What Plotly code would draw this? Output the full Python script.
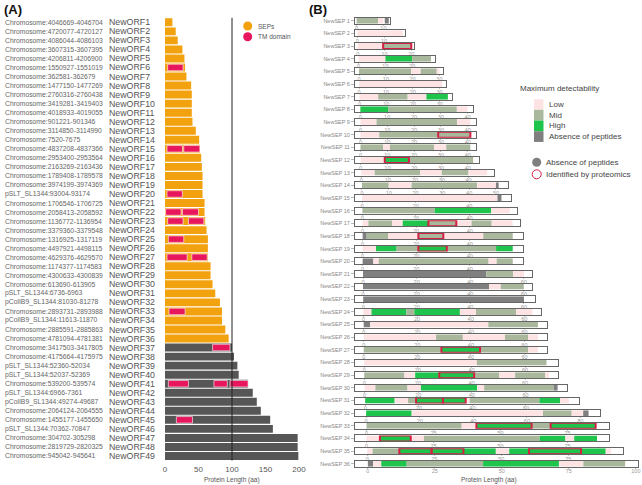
import plotly.graph_objects as go

W, H = 642, 485
FONT = "Liberation Sans, Arial, sans-serif"

# ---------------- Panel A data ----------------
orf_names = [f"NewORF{i}" for i in range(1, 50)]
orf_loci = [
    "Chromosome:4046669-4046704", "Chromosome:4720077-4720127", "Chromosome:4086044-4086103",
    "Chromosome:3607315-3607395", "Chromosome:4206811-4206900", "Chromosome:1550927-1551019",
    "Chromosome:362581-362679", "Chromosome:1477150-1477269", "Chromosome:2760316-2760438",
    "Chromosome:3419281-3419403", "Chromosome:4018933-4019055", "Chromosome:901221-901346",
    "Chromosome:3114850-3114990", "Chromosome:7520-7675", "Chromosome:4837208-4837366",
    "Chromosome:2953400-2953564", "Chromosome:2163269-2163436", "Chromosome:1789408-1789578",
    "Chromosome:3974199-3974369", "pSLT_SL1344:93004-93174", "Chromosome:1706546-1706725",
    "Chromosome:2058413-2058592", "Chromosome:1136772-1136954", "Chromosome:3379360-3379548",
    "Chromosome:1316925-1317119", "Chromosome:4497921-4498115", "Chromosome:4629376-4629570",
    "Chromosome:1174377-1174583", "Chromosome:4300633-4300839", "Chromosome:613690-613905",
    "pSLT_SL1344:6736-6963", "pColIB9_SL1344:81030-81278", "Chromosome:2893731-2893988",
    "pColIB9_SL1344:11613-11870", "Chromosome:2885591-2885863", "Chromosome:4781094-4781381",
    "Chromosome:3417503-3417805", "Chromosome:4175664-4175975", "pSLT_SL1344:52360-52034",
    "pSLT_SL1344:52037-52369", "Chromosome:539200-539574", "pSLT_SL1344:6966-7361",
    "pColIB9_SL1344:49274-49687", "Chromosome:2064124-2064555", "Chromosome:1455177-1455650",
    "pSLT_SL1344:70362-70847", "Chromosome:304702-305298", "Chromosome:2819729-2820325",
    "Chromosome:945042-945641",
]
orf_lengths = [11, 16, 19, 26, 29, 30, 32, 39, 40, 40, 40, 41, 46, 51, 52, 54, 55, 56, 56, 56,
               59, 59, 60, 62, 64, 64, 64, 68, 68, 71, 75, 82, 85, 85, 90, 95,
               100, 103, 108, 110, 124, 131, 137, 143, 157, 161, 198, 198, 199]
orf_is_sep = [True] * 36 + [False] * 13

tm_orf = [6, 15, 15, 20, 22, 22, 23, 23, 25, 27, 27, 33, 37, 41, 41, 41, 45]
tm_start = [4, 3, 28, 3, 1, 26, 4, 35, 5, 3, 40, 6, 71, 5, 73, 97, 17]
tm_end = [27, 26, 52, 26, 24, 50, 27, 58, 28, 33, 63, 30, 97, 35, 93, 124, 41]

# ---------------- Panel B data ----------------
sep_names = [f"NewSEP {i}" for i in range(1, 37)]
sep_lengths = orf_lengths[:36]
sep_segments = [
    [(0, 8, "Mid"), (8, 10, "Low"), (10.5, 12, "Absence")],
    [(0, 17, "Low")],
    [(0, 9.5, "Low"), (9.5, 20, "Mid")],
    [(0, 10, "Low"), (10, 20, "High"), (20, 27, "Mid")],
    [(0, 19.5, "Mid"), (19.5, 23, "Low"), (23, 29, "Mid"), (29, 30, "Low")],
    [(0, 31, "Low")],
    [(0, 7, "Low"), (7, 18, "Mid"), (18, 25, "Low"), (25, 33, "High")],
    [(0, 10.5, "High"), (10.5, 36, "Mid"), (36, 40, "Low")],
    [(0, 6, "Low"), (6, 36, "Mid"), (36, 41, "Low")],
    [(0, 7, "Low"), (7, 41, "Mid")],
    [(0, 8.5, "Mid"), (8.5, 11, "Low"), (11, 27.5, "Mid"), (27.5, 32, "Low"), (32, 41, "Mid")],
    [(0, 9, "Low"), (9, 18, "High"), (18, 42, "Mid")],
    [(0, 5, "Low"), (5, 22, "Mid"), (22, 30, "Low"), (30, 40, "Mid"), (40, 47, "Low")],
    [(0, 10, "Mid"), (10, 18.5, "Low"), (18.5, 43, "Mid"), (43, 50, "Low"), (50, 51, "Absence")],
    [(0, 50.3, "Low"), (50.5, 52, "Absence")],
    [(0, 27, "Mid"), (27, 48, "High"), (48, 55, "Low")],
    [(0, 2.2, "Low"), (2.2, 11, "Mid"), (11, 15, "Low"), (15, 24.6, "High"), (24.6, 35, "Mid"),
     (35, 40.7, "Low"), (40.7, 48.2, "Mid"), (48.2, 56, "Low")],
    [(0, 1.5, "Absence"), (1.5, 9.6, "Mid"), (9.6, 20.8, "Low"), (20.8, 30.1, "Mid"),
     (30.1, 45, "Low"), (45, 56, "Mid")],
    [(0, 5, "Low"), (5, 12.7, "High"), (12.7, 20.8, "Mid"), (20.8, 31.4, "High"),
     (31.4, 49.8, "Mid"), (49.8, 56, "High")],
    [(0, 4, "Absence"), (4, 6, "Low"), (6, 47, "Mid"), (47, 50, "Low"), (50, 56, "Mid")],
    [(0, 46, "Absence"), (46, 56, "Mid"), (56, 60, "Low")],
    [(0, 47, "Absence"), (47, 51.4, "Low"), (51.4, 60, "Mid")],
    [(0, 60, "Absence")],
    [(0, 3, "Low"), (3, 16, "High"), (16, 19, "Mid"), (19, 36, "High"), (36, 42, "Low"),
     (42, 57, "Mid"), (57, 63, "Low")],
    [(0, 2.4, "Absence"), (2.4, 46.5, "Low"), (46.5, 65, "Mid")],
    [(0, 27, "Low"), (27, 37, "Mid"), (37, 52.7, "Low"), (52.7, 61.4, "Mid"), (61.4, 65, "Low")],
    [(0, 29, "Mid"), (29, 43.4, "High"), (43.4, 61.4, "Mid"), (61.4, 65, "Low")],
    [(0, 42, "Low"), (42, 68, "Mid")],
    [(0, 15, "Mid"), (15, 19, "Low"), (19, 41, "High"), (41, 50.4, "Mid"), (50.4, 56.3, "Low"),
     (56.3, 67.5, "Mid"), (67.5, 69, "Low")],
    [(0, 4, "Low"), (4, 16, "Mid"), (16, 21, "Low"), (21, 42, "High"), (42, 44.6, "Low"),
     (44.6, 70.5, "Mid"), (70.5, 72, "Absence")],
    [(0, 11, "High"), (11, 16, "Low"), (16, 19, "Mid"), (19, 37.5, "High"), (37.5, 39, "Low"),
     (39, 65, "Mid"), (65, 72.7, "High"), (72.7, 76, "Low")],
    [(0, 17, "High"), (17, 66, "Low"), (66, 76.7, "Mid"), (76.7, 81, "Low"), (81, 83, "Absence")],
    [(0, 35.5, "Mid"), (35.5, 41, "Low"), (41, 61.6, "High"), (61.6, 68.7, "Mid"),
     (68.7, 85.5, "High")],
    [(0, 5, "Low"), (5, 16.5, "High"), (16.5, 21.4, "Low"), (21.4, 64.6, "Mid"),
     (64.6, 74.2, "High"), (74.2, 77.5, "Low"), (77.5, 86, "High")],
    [(0, 2, "Low"), (2, 12, "Mid"), (12, 48, "High"), (48, 53, "Low"), (53, 89, "High"),
     (89, 91, "Low")],
    [(0, 2, "Absence"), (2, 5, "Low"), (5, 14.5, "High"), (14.5, 43, "Mid"), (43, 71.3, "High"),
     (71.3, 80.4, "Low"), (80.4, 96, "Mid")],
]
sep_identified = [
    [], [], [(9.5, 20)], [], [], [], [], [], [], [(29, 41)], [], [(9, 18)], [], [], [], [],
    [(24.6, 35)], [(20.8, 30.1)], [(20.8, 31.4)], [], [], [], [], [], [], [], [(29, 43.4)], [],
    [(28, 41)], [], [(19, 29), (29, 37.5)], [], [(41, 61.6), (68.7, 85.5)], [(5, 16.5)],
    [(12, 24), (24, 35.9), (60.4, 79.8)], [],
]
level_names = ["Low", "Mid", "High", "Absence"]
level_labels = ["Low", "Mid", "High", "Absence of peptides"]

# ---------------- styles ----------------
C_SEP = "#F2A10F"
C_OTHER = "#565656"
C_TM = "#E8175D"
LEVEL_COLORS = {"Low": "#FDE3E3", "Mid": "#A9B89C", "High": "#1FC44C", "Absence": "#7F7F7F"}
C_ID = "#D41F45"


def fx(px):
    return px / W


def fy(py):
    return 1 - py / H


def label(x, y, text, size, color="#444", xanchor="left", bold=False):
    return dict(x=fx(x), y=fy(y), xref="paper", yref="paper",
                text=f"<b>{text}</b>" if bold else text, showarrow=False,
                xanchor=xanchor, yanchor="middle", font=dict(size=size, color=color))


fig = go.Figure()

# Panel A bars
ypos = list(range(len(orf_names)))
fig.add_trace(go.Bar(
    y=ypos, x=orf_lengths, orientation="h", width=0.88,
    marker=dict(color=[C_SEP if s else C_OTHER for s in orf_is_sep], line=dict(width=0)),
    showlegend=False, hoverinfo="skip", xaxis="x", yaxis="y"))
fig.add_trace(go.Bar(
    y=[o - 1 for o in tm_orf], base=tm_start,
    x=[e - s for s, e in zip(tm_start, tm_end)], orientation="h", width=0.72,
    marker=dict(color=C_TM, line=dict(color="white", width=0.6)),
    showlegend=False, hoverinfo="skip", xaxis="x", yaxis="y"))

layout = dict(
    template="none",
    width=W, height=H, margin=dict(l=0, r=0, t=0, b=0, pad=0, autoexpand=False),
    paper_bgcolor="white", plot_bgcolor="rgba(0,0,0,0)",
    font=dict(family=FONT, color="#444"),
    barmode="overlay", showlegend=False,
    xaxis=dict(domain=[fx(165), fx(299)], range=[0, 200], tickvals=[0, 50, 100, 150, 200],
               showgrid=False, zeroline=False, showline=False, ticks="", automargin=False,
               ticklabelstandoff=2, tickfont=dict(size=8, color="#555"), anchor="y"),
    yaxis=dict(domain=[fy(460.5), fy(17.8)], range=[48.5, -0.5], showgrid=False,
               zeroline=False, showticklabels=False, ticks="", anchor="x", automargin=False),
)

annotations = []
shapes = []

# 100 aa line
shapes.append(dict(type="line", xref="x", yref="y domain", x0=100, x1=100, y0=0, y1=1,
                   line=dict(color="#222", width=1)))

# Panel A labels
for i, (nm, loc) in enumerate(zip(orf_names, orf_loci)):
    annotations.append(dict(x=fx(3), y=i, xref="paper", yref="y", text=loc, showarrow=False,
                             xanchor="left", yanchor="middle",
                             font=dict(size=6.8, color="#666")))
    annotations.append(dict(x=fx(107), y=i, xref="paper", yref="y", text=nm, showarrow=False,
                             xanchor="left", yanchor="middle",
                             font=dict(size=8.8, color="#555")))

annotations.append(label(232, 480, "Protein Length (aa)", 6.5, "#555", "center"))
annotations.append(label(2, 9, "(A)", 13, "#111", bold=True))
annotations.append(label(307, 9, "(B)", 13, "#111", bold=True))

# Panel A legend
for j, (lab, col) in enumerate([("SEPs", C_SEP), ("TM domain", C_TM)]):
    cy = 26 + j * 10.7
    shapes.append(dict(type="circle", xref="paper", yref="paper",
                       x0=fx(243.2), x1=fx(252.2), y0=fy(cy + 4.5), y1=fy(cy - 4.5),
                       fillcolor=col, line=dict(width=0)))
    annotations.append(label(256, cy, lab, 6.5, "#555"))

# Panel B rows
PX_PER_AA = 2.68
X0 = 355
for i, (nm, L, segs, ids) in enumerate(zip(sep_names, sep_lengths, sep_segments, sep_identified)):
    k = i + 2
    P = L + 1
    cy = 20.7 + i * 12.66
    xr = [-0.05 * P, 1.05 * P]
    wpx = 1.1 * P * PX_PER_AA
    dtick = 10 if L <= 51 else (20 if L <= 82 else 25)
    fig.add_trace(go.Bar(
        y=[0] * len(segs), base=[s[0] for s in segs], x=[s[1] - s[0] for s in segs],
        orientation="h", width=1,
        marker=dict(color=[LEVEL_COLORS[s[2]] for s in segs], line=dict(width=0)),
        showlegend=False, hoverinfo="skip", xaxis=f"x{k}", yaxis=f"y{k}"))
    if ids:
        fig.add_trace(go.Bar(
            y=[0] * len(ids), base=[a for a, b in ids], x=[b - a for a, b in ids],
            orientation="h", width=1,
            marker=dict(color="rgba(0,0,0,0)", line=dict(color=C_ID, width=2)),
            showlegend=False, hoverinfo="skip", xaxis=f"x{k}", yaxis=f"y{k}"))
    layout[f"xaxis{k}"] = dict(
        domain=[fx(X0), fx(X0 + wpx)], range=xr, anchor=f"y{k}", tick0=0, dtick=dtick,
        ticks="outside", ticklen=1, tickcolor="#999", tickwidth=0.6, showticklabels=True,
        ticklabelstandoff=-2,
        tickfont=dict(size=5.5, color="#999"), showgrid=False, zeroline=False, automargin=False,
        showline=True, mirror=True, linecolor="#666", linewidth=1)
    layout[f"yaxis{k}"] = dict(
        domain=[fy(cy + 3), fy(cy - 3)], range=[-0.5, 0.5], anchor=f"x{k}",
        tickvals=[0], ticktext=[nm], ticks="outside", ticklen=3, tickcolor="#888",
        tickwidth=0.6, tickfont=dict(size=5.5, color="#888"), showgrid=False, zeroline=False,
        automargin=False, showline=True, mirror=True, linecolor="#666", linewidth=1)

annotations.append(label(489, 480, "Protein Length (aa)", 6.5, "#555", "center"))

# Panel B legend
annotations.append(label(518, 88, "Maximum detectability", 8, "#444"))
for j, (lv, lab) in enumerate(zip(level_names, level_labels)):
    cy = 104.5 + j * 10.7
    shapes.append(dict(type="rect", xref="paper", yref="paper",
                       x0=fx(534), x1=fx(543.5), y0=fy(cy + 5.35), y1=fy(cy - 5.35),
                       fillcolor=LEVEL_COLORS[lv], line=dict(width=0)))
    annotations.append(label(547, cy, lab, 8, "#444"))
shapes.append(dict(type="circle", xref="paper", yref="paper", x0=fx(532.2), x1=fx(541.2),
                   y0=fy(166.8), y1=fy(157.8), fillcolor="#7F7F7F", line=dict(width=0)))
annotations.append(label(544, 162.3, "Absence of peptides", 8, "#444"))
shapes.append(dict(type="circle", xref="paper", yref="paper", x0=fx(532.2), x1=fx(541.2),
                   y0=fy(178.8), y1=fy(169.8), fillcolor="white",
                   line=dict(color=C_ID, width=1)))
annotations.append(label(544, 174.3, "Identified by proteomics", 8, "#444"))

layout["annotations"] = annotations
layout["shapes"] = shapes
fig.update_layout(**layout)
fig.write_html(
    "out.html",
    config={"displayModeBar": False, "staticPlot": True},
    post_script="document.body.style.margin='0';document.body.style.overflow='hidden';")
